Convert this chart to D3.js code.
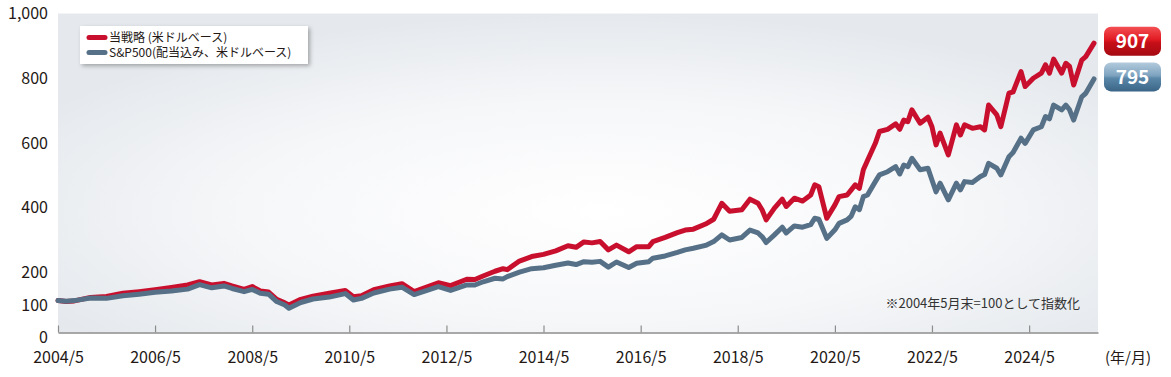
<!DOCTYPE html>
<html>
<meta charset="utf-8">
<style type="text/css">

  body {
    margin: 0;
    background: #fff;
  }

  text {
    font-family: "Noto Sans CJK JP", "Noto Sans", sans-serif;
    fill: #231815;
  }

</style>
<body>
<div id="chart"></div>
<script src="https://d3js.org/d3.v7.min.js"></script>
<script>
  // values (index, 2004/5 end = 100)
  const dates = ["2004-05","2004-07","2004-09","2005-01","2005-05","2005-09","2006-01","2006-05","2006-09","2007-01",
    "2007-04","2007-07","2007-10","2007-12","2008-03","2008-05","2008-07","2008-09","2008-11","2009-01",
    "2009-02","2009-05","2009-08","2009-12","2010-04","2010-06","2010-08","2010-11","2011-03","2011-06",
    "2011-09","2012-03","2012-06","2012-10","2012-12","2013-02","2013-05","2013-07","2013-08","2013-11",
    "2014-02","2014-05","2014-08","2014-11","2015-01","2015-03","2015-05","2015-07","2015-09","2015-11",
    "2016-02","2016-04","2016-07","2016-08","2016-11","2017-02","2017-04","2017-06","2017-09","2017-11",
    "2018-01","2018-03","2018-06","2018-08","2018-10","2018-11","2018-12","2019-02","2019-04","2019-05",
    "2019-07","2019-09","2019-11","2019-12","2020-01","2020-03","2020-05","2020-06","2020-08","2020-09",
    "2020-10","2020-11","2020-12","2021-01","2021-03","2021-04","2021-06","2021-08","2021-09","2021-10",
    "2021-11","2021-12","2022-02","2022-04","2022-05","2022-06","2022-07","2022-09","2022-11","2022-12",
    "2023-01","2023-03","2023-05","2023-06","2023-07","2023-09","2023-10","2023-12","2024-01","2024-03",
    "2024-04","2024-06","2024-08","2024-09","2024-10","2024-11","2025-01","2025-02","2025-03","2025-04",
    "2025-06","2025-07","2025-09"];

  const strategy = [100, 97, 99, 110, 113, 123, 128, 134, 141, 149,
    159, 149, 154, 146, 135, 144, 130, 127, 104, 93,
    86, 104, 114, 123, 132, 112, 115, 134, 146, 153,
    128, 156, 147, 167, 166, 177, 192, 200, 197, 224,
    238, 245, 256, 272, 267, 284, 281, 285, 259, 274,
    253, 269, 269, 285, 298, 313, 321, 324, 340, 355,
    405, 380, 385, 418, 405, 384, 353, 390, 418, 395,
    421, 412, 431, 463, 457, 358, 400, 426, 431, 447,
    463, 452, 510, 539, 593, 630, 637, 654, 637, 666,
    661, 698, 656, 675, 645, 588, 625, 557, 651, 619,
    651, 640, 645, 635, 713, 682, 645, 750, 754, 818,
    771, 797, 813, 839, 813, 857, 813, 844, 834, 776,
    854, 865, 907];

  const sp500 = [100, 98, 100, 108, 107, 115, 120, 126, 130, 136,
    150, 140, 146, 138, 128, 135, 123, 120, 97, 86,
    76, 94, 105, 111, 122, 102, 107, 124, 136, 142,
    119, 144, 132, 149, 149, 159, 170, 168, 175, 189,
    200, 203, 211, 218, 213, 222, 220, 223, 205, 221,
    204, 217, 222, 233, 240, 251, 259, 264, 273, 285,
    306, 290, 298, 321, 312, 300, 282, 306, 330, 312,
    334, 330, 338, 358, 355, 295, 322, 342, 353, 365,
    394, 385, 426, 431, 473, 494, 504, 520, 497, 525,
    520, 546, 510, 515, 478, 441, 468, 416, 468, 447,
    473, 470, 489, 495, 530, 515, 494, 551, 564, 609,
    593, 635, 645, 677, 670, 713, 698, 713, 698, 666,
    739, 750, 795];

  const seriesNames = ["当戦略 (米ドルベース)", "S&P500(配当込み、米ドルベース)"];
  const yTicks = [0, 100, 200, 400, 600, 800, 1000];
  const xTicks = ["2004-05", "2006-05", "2008-05", "2010-05", "2012-05", "2014-05",
    "2016-05", "2018-05", "2020-05", "2022-05", "2024-05"];
  const xUnit = "(年/月)";
  const note = "※2004年5月末=100として指数化";

  const width = 1171,
    height = 377;

  const parse = d3.timeParse("%Y-%m");

  const svg = d3.select("#chart").append("svg")
    .attr("width", width)
    .attr("height", height);

  // plot runs to 2025/10 on the right
  const x = d3.scaleTime()
    .domain([parse("2004-05"), parse("2025-10")])
    .range([58, 1098]);

  const y = d3.scaleLinear()
    .domain([0, 1000])
    .range([332.5, 13.5]);

  // the printed labels sit on a slightly different grid than the lines
  const yLabel = d3.scaleLinear()
    .domain([0, 1000])
    .range([337.5, 13.3]);

  const defs = svg.append("defs");

  const bg = defs.append("radialGradient")
    .attr("id", "bg")
    .attr("cx", "52%").attr("cy", "62%").attr("r", "62%");
  bg.append("stop").attr("offset", "0%").attr("stop-color", "#ffffff");
  bg.append("stop").attr("offset", "55%").attr("stop-color", "#f6f7f9");
  bg.append("stop").attr("offset", "100%").attr("stop-color", "#e5e9ed");

  const shadow = defs.append("filter")
    .attr("id", "shadow")
    .attr("x", "-10%").attr("y", "-30%").attr("width", "130%").attr("height", "180%");
  shadow.append("feDropShadow")
    .attr("dx", 2).attr("dy", 2)
    .attr("stdDeviation", 2)
    .attr("flood-color", "#000")
    .attr("flood-opacity", 0.3);

  const badgeColors = [
    ["#f35053", "#e11a22", "#c70f18", "#a50b12"],
    ["#b3cbdc", "#7ea3c0", "#5a86a8", "#3a6587"]
  ];
  badgeColors.forEach((c, i) => {
    const g = defs.append("linearGradient")
      .attr("id", "badge" + i)
      .attr("x1", 0).attr("y1", 0).attr("x2", 0).attr("y2", 1);
    g.append("stop").attr("offset", "0%").attr("stop-color", c[0]);
    g.append("stop").attr("offset", "45%").attr("stop-color", c[1]);
    g.append("stop").attr("offset", "55%").attr("stop-color", c[2]);
    g.append("stop").attr("offset", "100%").attr("stop-color", c[3]);
  });

  // plot background
  svg.append("rect")
    .attr("x", x.range()[0])
    .attr("y", y(1000))
    .attr("width", x.range()[1] - x.range()[0])
    .attr("height", y(0) - y(1000))
    .attr("fill", "url(#bg)");

  // y labels
  svg.append("g")
    .attr("transform", "translate(" + x.range()[0] + ",0)")
    .call(d3.axisLeft(yLabel).tickValues(yTicks).tickFormat(d3.format(",")).tickSize(0).tickPadding(10))
    .call(g => g.select(".domain").remove())
    .selectAll("text")
    .style("font-size", "16px")
    .style("font-family", null)
    .attr("fill", "#231815");

  // x axis with small upward ticks
  const xAxis = svg.append("g")
    .attr("transform", "translate(0," + y(0) + ")")
    .call(d3.axisBottom(x)
      .tickValues(xTicks.map(parse))
      .tickFormat(d3.timeFormat("%Y/%-m"))
      .tickSizeInner(-7)
      .tickSizeOuter(0)
      .tickPadding(19));
  xAxis.select(".domain").attr("stroke", "#8c8c8c").attr("stroke-width", 1.3);
  xAxis.selectAll(".tick line").attr("stroke", "#8c8c8c").attr("stroke-width", 1.2);
  xAxis.selectAll("text")
    .style("font-size", "16px")
    .style("font-family", null)
    .attr("fill", "#231815");

  svg.append("text")
    .attr("x", 1105)
    .attr("y", y(0) + 25)
    .attr("dy", "0.35em")
    .style("font-size", "15px")
    .text(xUnit);

  // note
  svg.append("text")
    .attr("x", 1080)
    .attr("y", 303)
    .attr("dy", "0.35em")
    .attr("text-anchor", "end")
    .style("font-size", "13px")
    .style("fill", "#333")
    .text(note);

  const series = [
    { name: seriesNames[0], values: strategy, color: "#c8102e" },
    { name: seriesNames[1], values: sp500, color: "#567187" }
  ];

  const line = d3.line()
    .x((d, i) => x(parse(dates[i])))
    .y(d => y(d));

  svg.selectAll(".series")
    .data(series)
    .enter()
    .append("path")
    .attr("class", "series")
    .attr("d", d => line(d.values))
    .attr("fill", "none")
    .attr("stroke", d => d.color)
    .attr("stroke-width", 5)
    .attr("stroke-linejoin", "round")
    .attr("stroke-linecap", "round");

  // end value badges
  const badges = svg.selectAll(".badge")
    .data(series)
    .enter()
    .append("g")
    .attr("class", "badge")
    .attr("transform", d => "translate(1104," + (y(d.values[d.values.length - 1]) - 2) + ")");

  badges.append("rect")
    .attr("x", 0)
    .attr("y", -14.5)
    .attr("width", 57)
    .attr("height", 29)
    .attr("rx", 7)
    .attr("fill", (d, i) => "url(#badge" + i + ")");

  badges.append("text")
    .attr("x", 28.5)
    .attr("dy", "0.36em")
    .attr("text-anchor", "middle")
    .style("font-size", "19px")
    .style("font-weight", "bold")
    .style("fill", "#fff")
    .text(d => d.values[d.values.length - 1]);

  // legend
  const legend = svg.append("g")
    .attr("transform", "translate(80,26)");

  legend.append("rect")
    .attr("width", 228)
    .attr("height", 38)
    .attr("fill", "#fff")
    .attr("filter", "url(#shadow)");

  const items = legend.selectAll(".item")
    .data(series)
    .enter()
    .append("g")
    .attr("transform", (d, i) => "translate(0," + (11.5 + i * 15) + ")");

  items.append("line")
    .attr("x1", 9).attr("x2", 25)
    .attr("stroke", d => d.color)
    .attr("stroke-width", 5)
    .attr("stroke-linecap", "round");

  items.append("text")
    .attr("x", 29)
    .attr("dy", "0.36em")
    .style("font-size", "12px")
    .text(d => d.name);

</script>
</body>
</html>
